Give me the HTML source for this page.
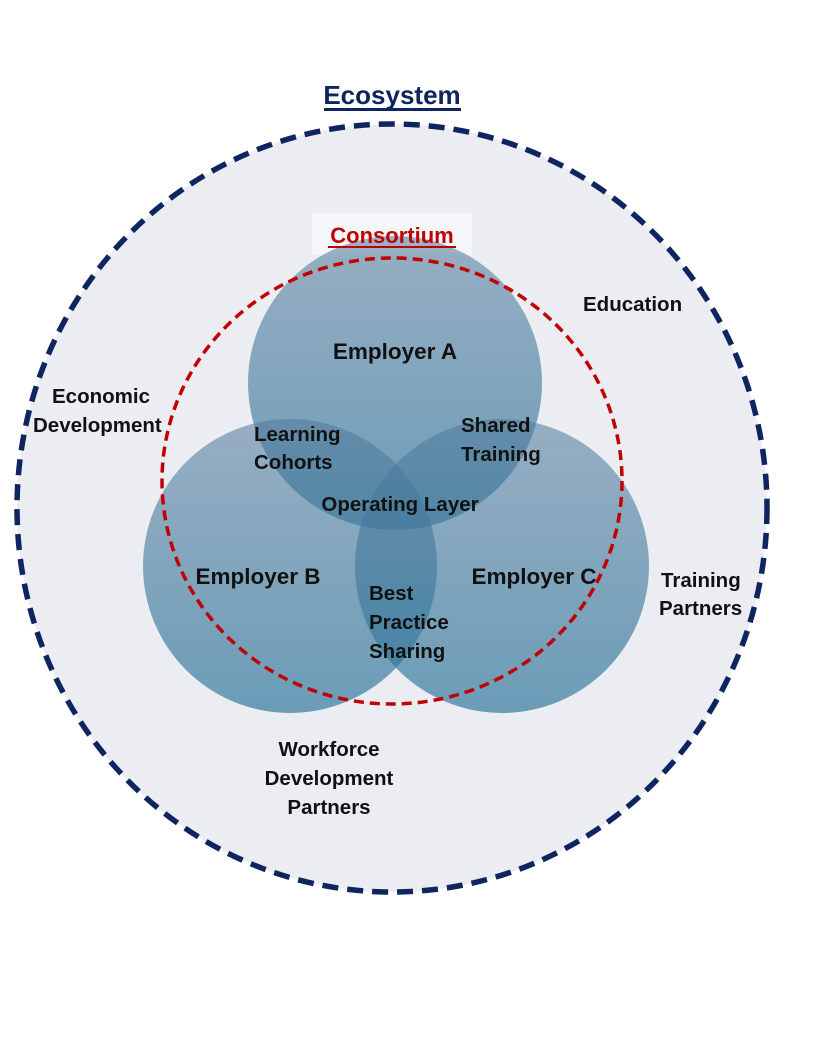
<!DOCTYPE html>
<html><head><meta charset="utf-8"><style>
html,body{margin:0;padding:0;background:#fff;}
svg{display:block;}
text{font-family:"Liberation Sans",sans-serif;font-weight:bold;fill:#111;}
</style></head><body>
<svg width="816" height="1056" viewBox="0 0 816 1056" xmlns="http://www.w3.org/2000/svg">
<defs>
<linearGradient id="g" x1="0" y1="0" x2="0" y2="1">
<stop offset="0" stop-color="rgb(80,122,155)" stop-opacity="0.55"/>
<stop offset="1" stop-color="rgb(45,118,155)" stop-opacity="0.68"/>
</linearGradient>
</defs>
<ellipse cx="392" cy="508" rx="375" ry="384" fill="#ecedf3" stroke="#0f2560" stroke-width="5.5" stroke-dasharray="16,9"/>
<text x="392" y="104" font-size="26" text-anchor="middle" style="fill:#0f2560">Ecosystem</text>
<rect x="324" y="108" width="137" height="3" fill="#0f2560"/>
<rect x="312" y="213" width="160" height="42" fill="#f5f6f9"/>
<circle cx="395" cy="383" r="147" fill="url(#g)"/>
<circle cx="290" cy="566" r="147" fill="url(#g)"/>
<circle cx="502" cy="566" r="147" fill="url(#g)"/>
<ellipse cx="392" cy="481" rx="230" ry="223" fill="none" stroke="#c00000" stroke-width="3.5" stroke-dasharray="10,6"/>
<text x="392" y="243" font-size="22" text-anchor="middle" style="fill:#c00000">Consortium</text>
<rect x="328" y="246" width="128" height="2" fill="#c00000"/>
<text x="395" y="359" font-size="22.5" text-anchor="middle">Employer A</text>
<text x="258" y="584" font-size="22.5" text-anchor="middle">Employer B</text>
<text x="534" y="584" font-size="22.5" text-anchor="middle">Employer C</text>
<text x="254" y="441" font-size="20.5">Learning</text>
<text x="254" y="469" font-size="20.5">Cohorts</text>
<text x="461" y="432" font-size="20.5">Shared</text>
<text x="461" y="461" font-size="20.5">Training</text>
<text x="400" y="511" font-size="20.5" text-anchor="middle">Operating Layer</text>
<text x="369" y="600" font-size="20.5">Best</text>
<text x="369" y="629" font-size="20.5">Practice</text>
<text x="369" y="658" font-size="20.5">Sharing</text>
<text x="583" y="311" font-size="20.5">Education</text>
<text x="52" y="403" font-size="20.5">Economic</text>
<text x="33" y="432" font-size="20.5">Development</text>
<text x="661" y="587" font-size="20.5">Training</text>
<text x="659" y="615" font-size="20.5">Partners</text>
<text x="329" y="756" font-size="20.5" text-anchor="middle">Workforce</text>
<text x="329" y="785" font-size="20.5" text-anchor="middle">Development</text>
<text x="329" y="814" font-size="20.5" text-anchor="middle">Partners</text>
</svg>
</body></html>
